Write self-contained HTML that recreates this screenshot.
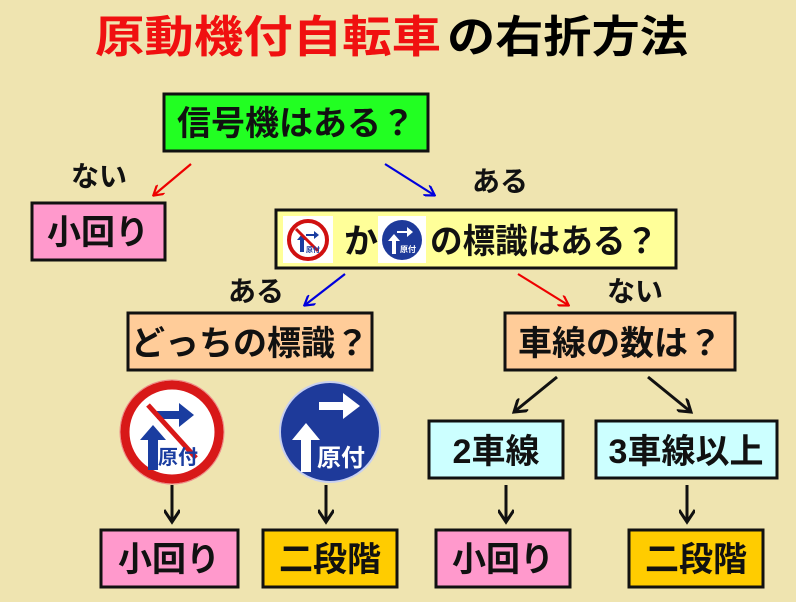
<!DOCTYPE html>
<html><head><meta charset="utf-8"><style>
html,body{margin:0;padding:0;background:#efe4b0;}
svg{display:block;}
text{font-family:"Liberation Sans","Noto Sans CJK JP",sans-serif;font-weight:bold;}
</style></head><body>
<svg width="796" height="602" viewBox="0 0 796 602" xmlns="http://www.w3.org/2000/svg">
<defs>
<marker id="ar" markerWidth="12" markerHeight="12" refX="10" refY="6" orient="auto" markerUnits="userSpaceOnUse"><path d="M1,0 L11,6 L1,12" fill="none" stroke="#e00" stroke-width="2.2"/></marker>
<marker id="ab" markerWidth="12" markerHeight="12" refX="10" refY="6" orient="auto" markerUnits="userSpaceOnUse"><path d="M1,0 L11,6 L1,12" fill="none" stroke="#00d" stroke-width="2.2"/></marker>
<marker id="ak" markerWidth="16" markerHeight="16" refX="13" refY="8" orient="auto" markerUnits="userSpaceOnUse"><path d="M1,0 L13,8 L1,16" fill="none" stroke="#111" stroke-width="3"/></marker>
</defs>
<rect width="796" height="602" fill="#efe4b0"/>
<!-- title -->
<text x="95" y="52" font-size="44" fill="#f01010" textLength="346" lengthAdjust="spacingAndGlyphs">原動機付自転車</text>
<text x="447" y="52" font-size="44" fill="#000" textLength="241" lengthAdjust="spacingAndGlyphs">の右折方法</text>

<!-- boxes -->
<g stroke="#111" stroke-width="3">
<rect x="164" y="94" width="264" height="57" fill="#22ff22"/>
<rect x="32" y="203" width="133" height="57" fill="#ff99cc"/>
<rect x="276" y="210" width="400" height="58" fill="#ffff99"/>
<rect x="128" y="313" width="244" height="57" fill="#ffcc99"/>
<rect x="505" y="313" width="230" height="57" fill="#ffcc99"/>
<rect x="429" y="421" width="134" height="57" fill="#ccffff"/>
<rect x="596" y="421" width="181" height="57" fill="#ccffff"/>
<rect x="101" y="530" width="137" height="57" fill="#ff99cc"/>
<rect x="263" y="530" width="134" height="57" fill="#ffcc00"/>
<rect x="436" y="530" width="134" height="57" fill="#ff99cc"/>
<rect x="629" y="530" width="134" height="57" fill="#ffcc00"/>
</g>

<g font-size="34" fill="#111" text-anchor="middle">
<text x="296" y="135">信号機はある？</text>
<text x="98" y="244">小回り</text>
<text x="250" y="355">どっちの標識？</text>
<text x="620" y="355">車線の数は？</text>
<text x="496" y="463">2車線</text>
<text x="686" y="463">3車線以上</text>
<text x="169" y="571">小回り</text>
<text x="330" y="571">二段階</text>
<text x="503" y="571">小回り</text>
<text x="696" y="571">二段階</text>
</g>
<text x="430" y="253" font-size="34" fill="#111" textLength="228" lengthAdjust="spacingAndGlyphs">の標識はある？</text>
<text x="344" y="253" font-size="34" fill="#111">か</text>
<g font-size="28" fill="#111" text-anchor="middle">
<text x="99" y="186">ない</text>
<text x="500" y="191">ある</text>
<text x="256" y="301">ある</text>
<text x="635" y="301">ない</text>
</g>

<!-- small signs in yellow box -->
<rect x="283" y="216" width="50" height="47" fill="#fff"/>
<circle cx="308" cy="240" r="19" fill="#fff" stroke="#d01010" stroke-width="4"/>
<path d="M300,252 v-12 h-3 l5,-6 l5,6 h-3 v12z" fill="#1a3da0"/>
<path d="M306,234 h8 v-3 l5,4 l-5,4 v-3 h-8z" fill="#1a3da0"/>
<line x1="296" y1="229" x2="318" y2="251" stroke="#d01010" stroke-width="3"/>
<text x="313" y="252" font-size="7" fill="#1a3da0" text-anchor="middle">原付</text>
<rect x="378" y="216" width="48" height="47" fill="#fff"/>
<circle cx="402" cy="240" r="20" fill="#1e3a9a"/>
<path d="M392,254 v-13 h-4 l6,-7 l6,7 h-4 v13z" fill="#fff"/>
<path d="M397,231 h10 v-4 l6,5 l-6,5 v-4 h-10z" fill="#fff"/>
<text x="408" y="252" font-size="8" fill="#fff" text-anchor="middle">原付</text>

<!-- big red sign -->
<circle cx="172" cy="432" r="47" fill="#fff" stroke="#d81818" stroke-width="9"/>
<circle cx="172" cy="432" r="52" fill="none" stroke="#e88" stroke-width="1"/>
<path d="M148,470 v-30 h-8 l13,-15 l13,15 h-8 v30z" fill="#1a3da0"/>
<path d="M157,411 h22 v-8 l15,12 l-15,12 v-8 h-22z" fill="#1a3da0"/>
<line x1="148" y1="405" x2="196" y2="458" stroke="#d81818" stroke-width="5"/>
<text x="178" y="464" font-size="20" fill="#1a3da0" text-anchor="middle">原付</text>
<!-- big blue sign -->
<circle cx="330" cy="432" r="50" fill="#1e3a9a" stroke="#c8d0f0" stroke-width="2"/>
<path d="M301,472 v-32 h-9 l14,-17 l14,17 h-9 v32z" fill="#fff"/>
<path d="M319,402 h24 v-9 l17,13 l-17,13 v-9 h-24z" fill="#fff"/>
<text x="341" y="466" font-size="24" fill="#fff" text-anchor="middle">原付</text>

<!-- connectors -->
<line x1="191" y1="164" x2="154" y2="195" stroke="#e00" stroke-width="2.2" marker-end="url(#ar)"/>
<line x1="385" y1="164" x2="434" y2="195" stroke="#00d" stroke-width="2.2" marker-end="url(#ab)"/>
<line x1="345" y1="274" x2="305" y2="305" stroke="#00d" stroke-width="2.2" marker-end="url(#ab)"/>
<line x1="518" y1="274" x2="568" y2="305" stroke="#e00" stroke-width="2.2" marker-end="url(#ar)"/>
<g stroke="#111" stroke-width="3" marker-end="url(#ak)">
<line x1="557" y1="377" x2="514" y2="412"/>
<line x1="648" y1="377" x2="691" y2="412"/>
<line x1="172" y1="485" x2="172" y2="522"/>
<line x1="326" y1="485" x2="326" y2="522"/>
<line x1="506" y1="485" x2="506" y2="522"/>
<line x1="687" y1="485" x2="687" y2="522"/>
</g>
</svg>
</body></html>
